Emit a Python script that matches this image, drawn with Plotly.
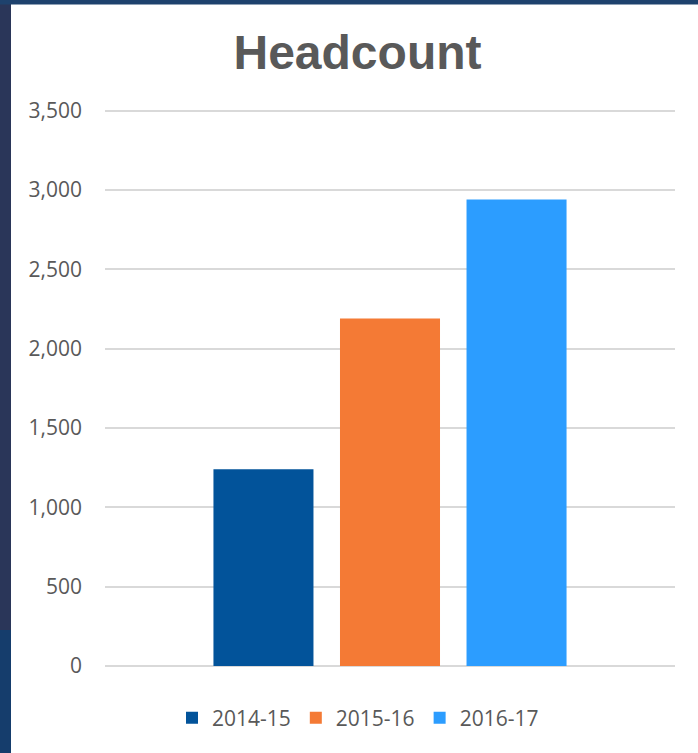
import plotly.graph_objects as go

# Data
series_names = ["2014-15", "2015-16", "2016-17"]
headcount = [1240, 2190, 2940]
category = [""]
colors = ["#02539a", "#f47a35", "#2c9dff"]
y_ticks = [0, 500, 1000, 1500, 2000, 2500, 3000, 3500]
y_tick_labels = ["0", "500", "1,000", "1,500", "2,000", "2,500", "3,000", "3,500"]
y_max = 3510

W, H = 698, 753
L, R, B = 105, 23, 87
T = 111 - 1.6
pw = W - L - R
ph = H - T - B

def px_x(p):
    return (p - L) / pw

def px_y(p):
    return (H - B - p) / ph

fig = go.Figure()
for name, val, col in zip(series_names, headcount, colors):
    fig.add_trace(go.Bar(x=category, y=[val], name=name, marker=dict(color=col, line=dict(width=0))))

shapes = [
    dict(type="rect", xref="paper", yref="paper", x0=px_x(0), x1=px_x(11), y0=px_y(0), y1=px_y(630),
         fillcolor="#2a3659", line=dict(width=0), layer="above"),
    dict(type="rect", xref="paper", yref="paper", x0=px_x(0), x1=px_x(11), y0=px_y(630), y1=px_y(H),
         fillcolor="#153d6c", line=dict(width=0), layer="above"),
    dict(type="rect", xref="paper", yref="paper", x0=px_x(0), x1=px_x(W), y0=px_y(0), y1=px_y(5),
         fillcolor="#1e426d", line=dict(width=0), layer="above"),
]

fig.update_layout(
    width=W, height=H,
    margin=dict(l=L, r=R, t=T, b=B, pad=0),
    paper_bgcolor="white", plot_bgcolor="white",
    barmode="group", bargap=0.334, bargroupgap=0.2095,
    title=dict(text="<b>Headcount</b>", x=357.5 / W, xref="container", xanchor="center",
               y=1 - 52 / H, yref="container", yanchor="middle",
               font=dict(family="Liberation Sans, Arial", size=48, color="#595959")),
    xaxis=dict(showticklabels=False, showgrid=False, zeroline=False, showline=False, ticks=""),
    yaxis=dict(range=[0, y_max], tickvals=y_ticks, ticktext=y_tick_labels,
               showgrid=True, gridcolor="#d9d9d9", gridwidth=1.5,
               zeroline=True, zerolinecolor="#d9d9d9", zerolinewidth=1.5,
               showline=False, ticks="", ticklabelstandoff=22,
               tickfont=dict(family="Open Sans", size=21, color="#595959")),
    legend=dict(orientation="h", x=px_x(358), xanchor="center", y=px_y(718), yanchor="middle",
                font=dict(family="Open Sans", size=21, color="#595959"),
                itemwidth=30, bgcolor="rgba(0,0,0,0)"),
    shapes=shapes,
    showlegend=True,
)

fig.write_html("out.html")
